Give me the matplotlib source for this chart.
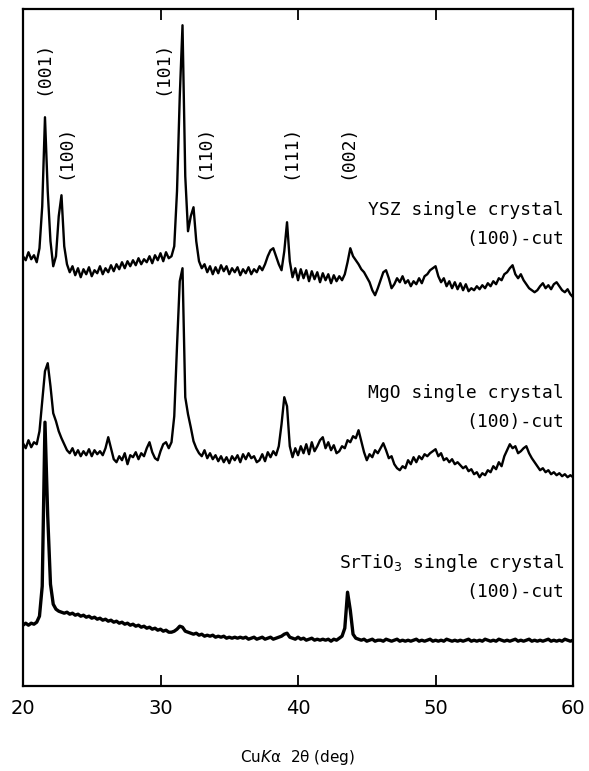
import numpy as np
import matplotlib
matplotlib.use("Agg")
import matplotlib.pyplot as plt

# 2-theta grid (deg), 0.2 deg step
two_theta = np.round(np.arange(20.0, 60.0001, 0.2), 1)

# intensities (arb. units) above each pattern's own baseline
ysz = [
    30, 26, 34, 27, 31, 24, 38, 80, 169, 95,
    45, 20, 30, 70, 91, 40, 22, 14, 20, 11,
    18, 9, 17, 12, 19, 10, 16, 13, 20, 12,
    18, 14, 21, 15, 22, 17, 24, 18, 25, 20,
    26, 21, 28, 22, 27, 24, 30, 23, 31, 26,
    33, 25, 34, 28, 30, 40, 95, 190, 261, 110,
    55, 70, 79, 45, 25, 18, 22, 14, 20, 12,
    19, 13, 21, 15, 20, 12, 18, 14, 19, 11,
    17, 13, 19, 12, 17, 14, 20, 16, 22, 30,
    36, 38, 30, 22, 16, 35, 64, 25, 9, 18,
    6, 17, 8, 16, 5, 15, 7, 14, 4, 13,
    6, 12, 3, 11, 5, 10, 6, 12, 24, 38,
    30, 26, 22, 17, 14, 9, 4, -4, -9, -2,
    6, 14, 16, 8, -2, 2, 8, 4, 10, 3,
    6, 0, 5, 2, 8, 3, 10, 12, 16, 18,
    20, 10, 4, 8, 0, 5, -2, 4, -3, 3,
    -4, 2, -5, -2, -4, 0, -3, 1, -2, 3,
    0, 5, 2, 8, 6, 12, 14, 18, 21, 12,
    8, 12, 6, 2, -2, -4, -6, -4, 0, 3,
    -2, 1, -3, 2, 4, 0, -4, -6, -3, -8,
    -11,
]

mgo = [
    43, 38, 46, 39, 44, 42, 55, 85, 115, 123,
    100, 73, 65, 55, 48, 42, 36, 33, 38, 31,
    36, 30, 35, 31, 37, 30, 36, 32, 35, 31,
    38, 49, 38, 27, 24, 30, 26, 33, 22, 31,
    29, 34, 27, 33, 30, 38, 44, 34, 28, 26,
    35, 42, 44, 38, 44, 70, 140, 205, 218, 89,
    72, 59, 45, 38, 33, 30, 36, 28, 33, 27,
    31, 25, 30, 24, 29, 23, 30, 26, 31, 24,
    32, 27, 33, 28, 30, 24, 26, 32, 25, 34,
    29, 35, 31, 40, 62, 89, 80, 40, 29, 38,
    31, 40, 33, 42, 32, 44, 35, 40, 46, 49,
    38, 44, 36, 41, 33, 35, 40, 38, 46, 44,
    50, 48, 56, 45, 34, 26, 32, 29, 36, 33,
    38, 43, 36, 28, 30, 22, 18, 16, 20, 18,
    26, 22, 29, 24, 30, 27, 32, 30, 33, 35,
    37, 30, 33, 26, 28, 24, 27, 22, 24, 21,
    18, 20, 15, 17, 12, 14, 9, 13, 11, 16,
    14, 20, 17, 24, 20, 30, 36, 42, 38, 40,
    33, 35, 38, 40, 33, 28, 24, 20, 16, 18,
    14, 16, 12, 14, 11, 13, 10, 12, 9, 11,
    9,
]

srtio3 = [
    21, 23, 21, 23, 22, 24, 30, 60, 224, 130,
    62, 42, 37, 35, 34, 33, 34, 32, 33, 31,
    32, 30, 31, 29, 30, 28, 29, 27, 28, 26,
    27, 25, 26, 24, 25, 23, 24, 22, 23, 21,
    22, 20, 21, 19, 20, 18, 19, 17, 18, 16,
    17, 15, 16, 14, 14, 15, 17, 20, 19, 15,
    14, 13, 12, 13, 11, 12, 10, 11, 10, 11,
    9, 10, 9, 10, 8, 9, 8, 9, 8, 9,
    8, 9, 7, 8, 9, 7, 8, 9, 7, 8,
    9, 7, 8, 9, 10, 12, 13, 9, 8, 7,
    9, 7, 8, 6, 7, 8, 6, 7, 6, 7,
    6, 7, 5, 7, 6, 8, 10, 18, 54, 36,
    12, 8, 7, 6, 7, 5, 6, 7, 5, 6,
    6, 5, 7, 6, 5, 6, 7, 5, 6, 5,
    6, 5, 6, 7, 5, 6, 5, 6, 7, 5,
    6, 5, 6, 5, 7, 6, 5, 6, 5, 6,
    5, 6, 7, 5, 6, 5, 6, 5, 7, 6,
    5, 6, 5, 7, 6, 5, 6, 5, 6, 7,
    5, 6, 5, 6, 7, 5, 6, 5, 6, 5,
    6, 7, 5, 6, 5, 6, 5, 7, 6, 5,
    6,
]

# YBCO reflections labelled above the top pattern
peak_labels = ["(001)", "(100)", "(101)", "(110)", "(111)", "(002)"]
peak_pos = [21.45, 23.05, 30.1, 33.2, 39.4, 43.6]
peak_height = [618, 534, 618, 534, 534, 534]

patterns = [
    (ysz, 400, 1.7, "YSZ single crystal", 476),
    (mgo, 200, 1.7, "MgO single crystal", 293),
    (srtio3, 40, 2.4, "SrTiO$_3$ single crystal", 123),
]

fig = plt.figure(figsize=(5.89, 7.71), dpi=100)
ax = fig.add_axes([0.039, 0.110, 0.934, 0.878])

mono = "DejaVu Sans Mono"
for vals, offset, lw, name, ytxt in patterns:
    ax.plot(two_theta, np.array(vals) + offset, color="black", lw=lw)
    ax.text(59.35, ytxt, name, ha="right", va="center",
            family=mono, fontsize=13)
    ax.text(59.35, ytxt - 29, "(100)-cut", ha="right", va="center",
            family=mono, fontsize=13)

for lab, x, y in zip(peak_labels, peak_pos, peak_height):
    ax.text(x, y, lab, rotation=90, ha="center", va="center",
            family=mono, fontsize=13)

ax.set_xlim(20, 60)
ax.set_ylim(0, 677)
ax.set_xticks([20, 30, 40, 50, 60])
ax.set_yticks([])
ax.tick_params(axis="x", direction="in", length=8, width=1.3, top=True,
               labelsize=14, pad=9)
for sp in ax.spines.values():
    sp.set_linewidth(1.6)

ax.set_xlabel(r"Cu$\it{K}$α  2θ (deg)", fontsize=11, labelpad=22)

fig.savefig("out.png", dpi=100)
